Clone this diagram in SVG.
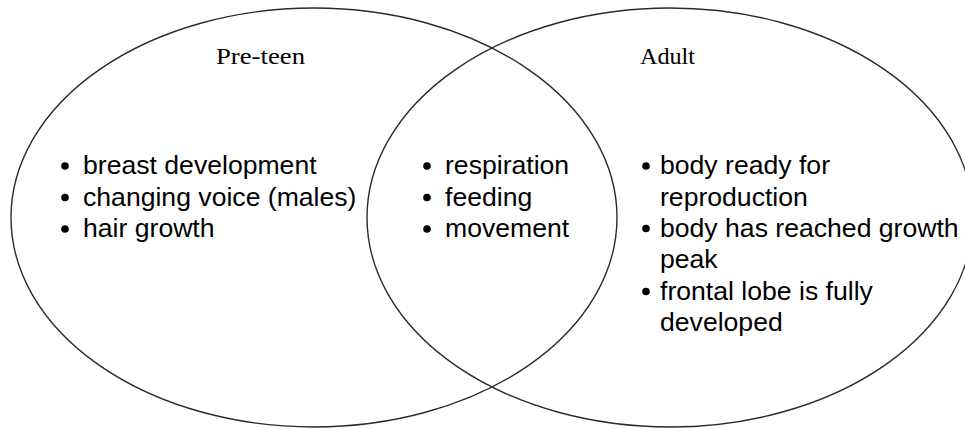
<svg xmlns="http://www.w3.org/2000/svg" width="965" height="429" viewBox="0 0 965 429">
<style>
.ring{fill:none;stroke:#2a2a2a;stroke-width:1.4}
.title{font-family:"Liberation Serif","Times New Roman",serif;font-size:23px;fill:#000}
.item{font-family:"Liberation Sans",Arial,sans-serif;font-size:26.6px;fill:#000}
.dot{fill:#000}
</style>
<rect width="965" height="429" fill="#fff"/>
<g id="preteen">
<ellipse class="ring" cx="314" cy="217.5" rx="303" ry="209.5"/>
<text class="title" x="216" y="64" textLength="89" lengthAdjust="spacingAndGlyphs">Pre-teen</text>
<circle class="dot" cx="65" cy="166" r="3.8"/>
<text class="item" x="83" y="174">breast development</text>
<circle class="dot" cx="65" cy="197.5" r="3.8"/>
<text class="item" x="83" y="205.5">changing voice (males)</text>
<circle class="dot" cx="65" cy="229" r="3.8"/>
<text class="item" x="83" y="237">hair growth</text>
</g>
<g id="adult">
<ellipse class="ring" cx="670" cy="217.5" rx="303" ry="209.5"/>
<text class="title" x="640" y="64" textLength="55" lengthAdjust="spacingAndGlyphs">Adult</text>
<circle class="dot" cx="646" cy="166" r="3.8"/>
<text class="item" x="660" y="174">body ready for</text>
<text class="item" x="660" y="205.5">reproduction</text>
<circle class="dot" cx="646" cy="228.5" r="3.8"/>
<text class="item" x="660" y="236.5">body has reached growth</text>
<text class="item" x="660" y="268">peak</text>
<circle class="dot" cx="646" cy="291.5" r="3.8"/>
<text class="item" x="660" y="299.5">frontal lobe is fully</text>
<text class="item" x="660" y="331">developed</text>
</g>
<g id="both">
<circle class="dot" cx="427" cy="166" r="3.8"/>
<text class="item" x="445" y="174">respiration</text>
<circle class="dot" cx="427" cy="197.5" r="3.8"/>
<text class="item" x="445" y="205.5">feeding</text>
<circle class="dot" cx="427" cy="229" r="3.8"/>
<text class="item" x="445" y="237">movement</text>
</g>
<g id="connectors"/>
</svg>
